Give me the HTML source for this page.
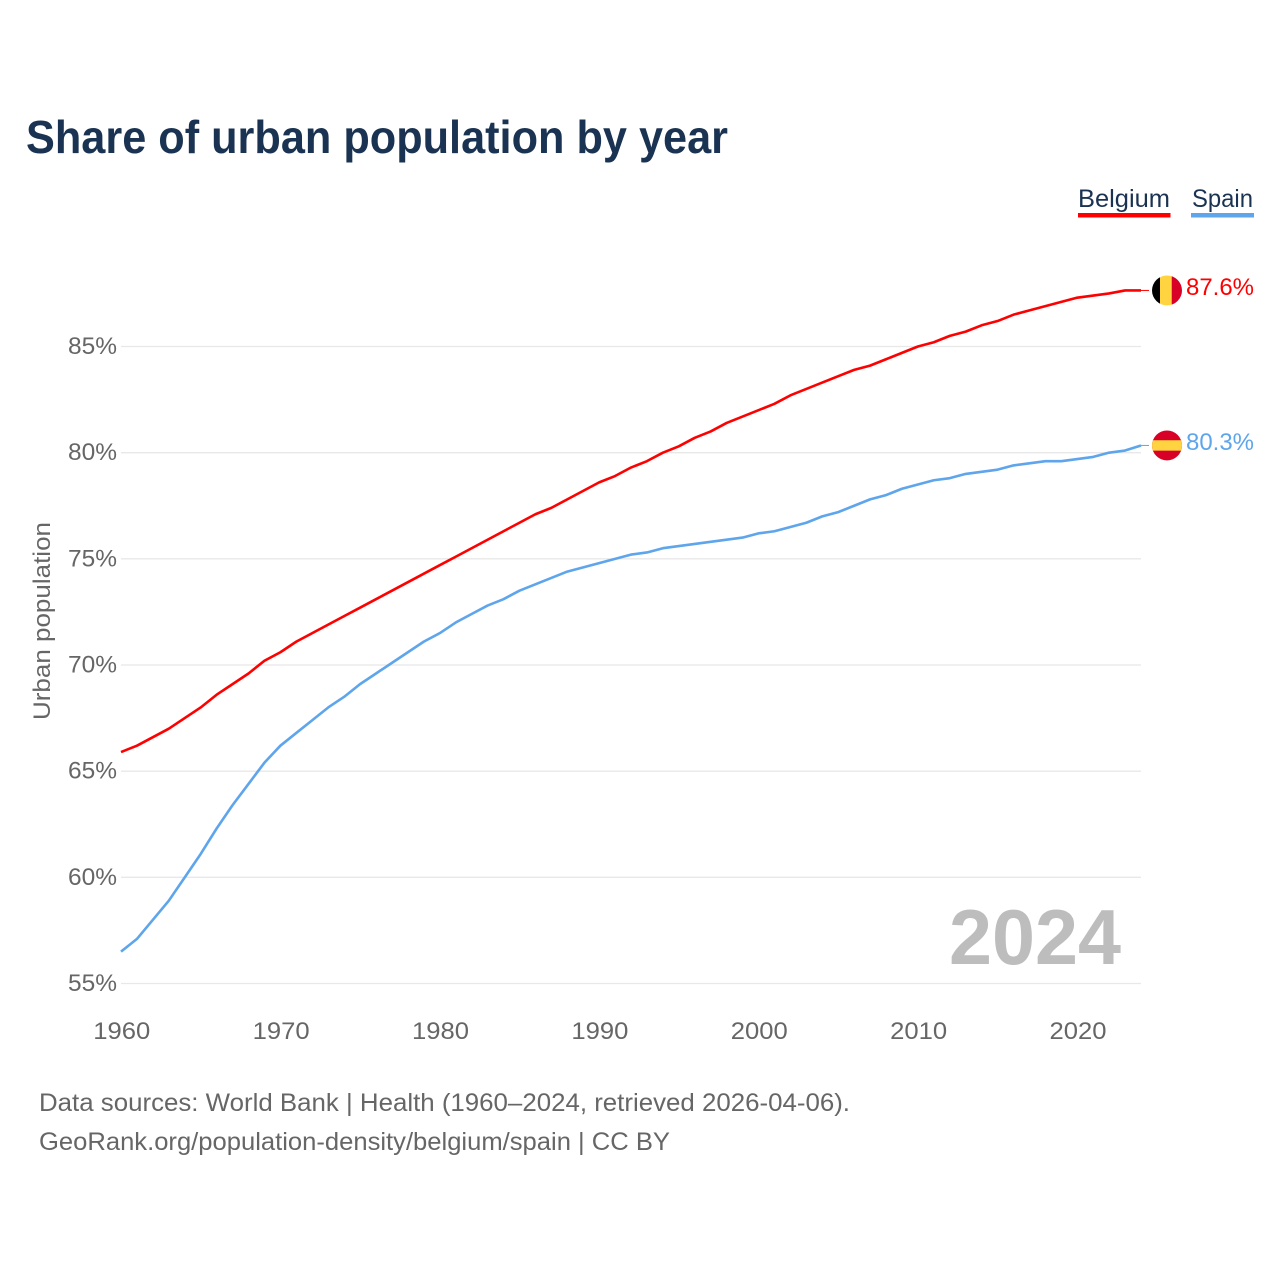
<!DOCTYPE html>
<html lang="en">
<head>
<meta charset="utf-8">
<title>Share of urban population by year</title>
<style>
html,body{margin:0;padding:0;background:#fff;}
svg{display:block;font-family:"Liberation Sans",sans-serif;}
</style>
</head>
<body>
<svg id="chart" xmlns="http://www.w3.org/2000/svg" width="1280" height="1280" viewBox="0 0 1280 1280">
  <rect x="0" y="0" width="1280" height="1280" fill="#ffffff"/>
  <text x="26" y="153" font-size="46" font-weight="700" fill="#1a3352" textLength="702" lengthAdjust="spacingAndGlyphs">Share of urban population by year</text>
  <g id="legend">
    <g>
      <text x="1078" y="207" font-size="25" fill="#1a3352" textLength="92" lengthAdjust="spacingAndGlyphs">Belgium</text>
      <rect x="1078" y="213" width="92.5" height="4.5" fill="#ff0000"/>
    </g>
    <g>
      <text x="1192" y="207" font-size="25" fill="#1a3352" textLength="61" lengthAdjust="spacingAndGlyphs">Spain</text>
      <rect x="1191" y="213" width="63" height="4.5" fill="#5ea5ec"/>
    </g>
  </g>
  <g id="grid"></g>
  <g id="yticks"></g>
  <g id="xticks"></g>
  <text transform="translate(50 621) rotate(-90)" text-anchor="middle" font-size="24" fill="#666666" textLength="198" lengthAdjust="spacingAndGlyphs">Urban population</text>
  <text x="1121" y="964" text-anchor="end" font-size="78" font-weight="700" fill="#bdbdbd" textLength="172" lengthAdjust="spacingAndGlyphs">2024</text>
  <g id="series"></g>
  <g id="flags"></g>
  <text x="39" y="1111" font-size="25" fill="#666666" textLength="811" lengthAdjust="spacingAndGlyphs">Data sources: World Bank | Health (1960–2024, retrieved 2026-04-06).</text>
  <text x="39" y="1150" font-size="25" fill="#666666" textLength="631" lengthAdjust="spacingAndGlyphs">GeoRank.org/population-density/belgium/spain | CC BY</text>
</svg>
<script>
const years = [1960,1961,1962,1963,1964,1965,1966,1967,1968,1969,1970,1971,1972,1973,1974,1975,1976,1977,1978,1979,1980,1981,1982,1983,1984,1985,1986,1987,1988,1989,1990,1991,1992,1993,1994,1995,1996,1997,1998,1999,2000,2001,2002,2003,2004,2005,2006,2007,2008,2009,2010,2011,2012,2013,2014,2015,2016,2017,2018,2019,2020,2021,2022,2023,2024];
const belgiumValues = [65.9,66.2,66.6,67.0,67.5,68.0,68.6,69.1,69.6,70.2,70.6,71.1,71.5,71.9,72.3,72.7,73.1,73.5,73.9,74.3,74.7,75.1,75.5,75.9,76.3,76.7,77.1,77.4,77.8,78.2,78.6,78.9,79.3,79.6,80.0,80.3,80.7,81.0,81.4,81.7,82.0,82.3,82.7,83.0,83.3,83.6,83.9,84.1,84.4,84.7,85.0,85.2,85.5,85.7,86.0,86.2,86.5,86.7,86.9,87.1,87.3,87.4,87.5,87.64,87.64];
const spainValues = [56.5,57.1,58.0,58.9,60.0,61.1,62.3,63.4,64.4,65.4,66.2,66.8,67.4,68.0,68.5,69.1,69.6,70.1,70.6,71.1,71.5,72.0,72.4,72.8,73.1,73.5,73.8,74.1,74.4,74.6,74.8,75.0,75.2,75.3,75.5,75.6,75.7,75.8,75.9,76.0,76.2,76.3,76.5,76.7,77.0,77.2,77.5,77.8,78.0,78.3,78.5,78.7,78.8,79.0,79.1,79.2,79.4,79.5,79.6,79.6,79.7,79.8,80.0,80.1,80.34];
const yTickValues = [55,60,65,70,75,80,85];
const xTickValues = [1960,1970,1980,1990,2000,2010,2020];

const NS = 'http://www.w3.org/2000/svg';
function xScale(year){ return 121 + (year - 1960) * (1141 - 121) / (2024 - 1960); }
function yScale(v){ return 983.5 - (v - 55) * (983.5 - 346.5) / (85 - 55); }
function mk(tag, attrs, parent){
  const el = document.createElementNS(NS, tag);
  for (const k in attrs) el.setAttribute(k, attrs[k]);
  parent.appendChild(el);
  return el;
}

const grid = document.getElementById('grid');
const yticks = document.getElementById('yticks');
const xticks = document.getElementById('xticks');
const seriesG = document.getElementById('series');
const flagsG = document.getElementById('flags');

yTickValues.forEach(function(v){
  const y = yScale(v);
  const line = mk('line', {x1:121, x2:1141, y1:y, y2:y, stroke:'#e8e8e8', 'stroke-width':1.3}, grid);
  
  
  const t = mk('text', {x:117, y:y+7.5, 'text-anchor':'end', 'font-size':24, fill:'#666666', textLength:49, lengthAdjust:'spacingAndGlyphs'}, yticks);
  
  
  t.textContent = v + '%';
});

xTickValues.forEach(function(yr){
  const t = mk('text', {x:xScale(yr)+0.8, y:1039, 'text-anchor':'middle', 'font-size':24, fill:'#666666', textLength:57, lengthAdjust:'spacingAndGlyphs'}, xticks);
  
  
  t.textContent = String(yr);
});

function pathFor(values){
  return values.map(function(v, i){
    return (i ? 'L' : 'M') + xScale(years[i]).toFixed(2) + ' ' + yScale(v).toFixed(2);
  }).join(' ');
}

const belgiumLine = mk('path', {d:pathFor(belgiumValues), fill:'none', stroke:'#ff0000', 'stroke-width':2.6, 'stroke-linejoin':'round'}, seriesG);


const spainLine = mk('path', {d:pathFor(spainValues), fill:'none', stroke:'#5ea5ec', 'stroke-width':2.6, 'stroke-linejoin':'round'}, seriesG);



function endLabel(values, color, slug, stripes){
  const last = values[values.length - 1];
  const y = yScale(last);
  const x0 = xScale(years[years.length - 1]);
  const cx = 1167, r = 15;
  const conn = mk('line', {x1:x0, x2:cx - r - 3, y1:y, y2:y, stroke:color, 'stroke-width':1}, flagsG);
  
  
  const g = mk('g', {}, flagsG);
  
  
  const clipId = 'clip-' + slug;
  const defs = mk('defs', {}, g);
  const cp = mk('clipPath', {id:clipId}, defs);
  mk('circle', {cx:cx, cy:y, r:r}, cp);
  const sg = mk('g', {'clip-path':'url(#' + clipId + ')'}, g);
  stripes(sg, cx, y, r);
  const t = mk('text', {x:1254, y:y+4.8, 'text-anchor':'end', 'font-size':24, fill:color, textLength:68, lengthAdjust:'spacingAndGlyphs'}, flagsG);
  
  
  t.textContent = last.toFixed(1) + '%';
}

endLabel(belgiumValues, '#ff0000', 'belgium', function(g, cx, cy, r){
  mk('rect', {x:cx-r, y:cy-r, width:8, height:2*r, fill:'#000000'}, g);
  mk('rect', {x:cx-r+8, y:cy-r, width:11.7, height:2*r, fill:'#ffd440'}, g);
  mk('rect', {x:cx-r+19.7, y:cy-r, width:10.3, height:2*r, fill:'#d80027'}, g);
});
endLabel(spainValues, '#5ea5ec', 'spain', function(g, cx, cy, r){
  mk('rect', {x:cx-r, y:cy-r, width:2*r, height:2*r, fill:'#d80027'}, g);
  mk('rect', {x:cx-r, y:cy-5.2, width:2*r, height:10.4, fill:'#ffd440'}, g);
});
</script>
</body>
</html>
